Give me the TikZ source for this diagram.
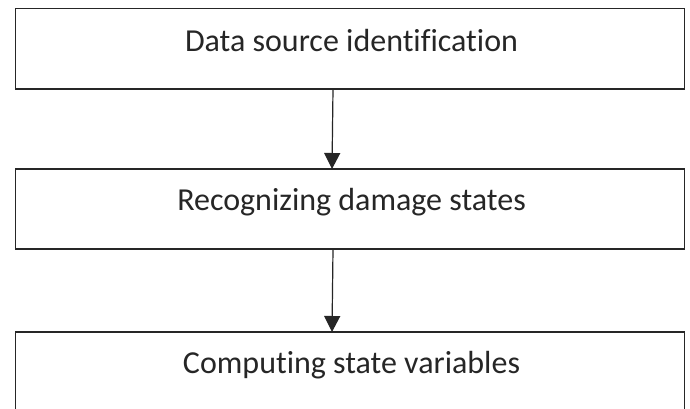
\documentclass[tikz,border=0pt]{standalone}
\usepackage{fontspec}
\setmainfont{Carlito}[Ligatures={NoCommon}]
\usetikzlibrary{arrows.meta}
\begin{document}
\begin{tikzpicture}[x=1pt,y=-1pt,
  box/.style={draw=black!85,line width=1.4pt,minimum width=668.5pt,inner sep=0pt,outer sep=0pt},
  lbl/.style={anchor=base,inner sep=0pt,font=\fontsize{32}{38}\selectfont,text=black!85},
  flow/.style={draw=black!85,line width=1.2pt,-{Triangle[length=16pt,width=16pt]}}]
\clip (0,0) rectangle (690,408);
\fill[white] (0,0) rectangle (690,408);
\node[box,minimum height=80.5pt] (b1) at (350,48.75) {};
\node[box,minimum height=80pt] (b2) at (350,209) {};
\node[box,minimum height=80pt] (b3) at (350,372) {};
\node[lbl] (t1) at (351.5,51) {Data source identification};
\node[lbl] (t2) at (351.5,210) {Recognizing damage states};
\node[lbl] (t3) at (351.5,373) {Computing state variables};
\coordinate (a1) at (b1.south -| 333,0);
\coordinate (a2) at (b2.north -| 332,0);
\coordinate (a3) at (b2.south -| 333,0);
\coordinate (a4) at (b3.north -| 332,0);
\draw[flow] (a1) -- (a2);
\draw[flow] (a3) -- (a4);
\end{tikzpicture}
\end{document}
